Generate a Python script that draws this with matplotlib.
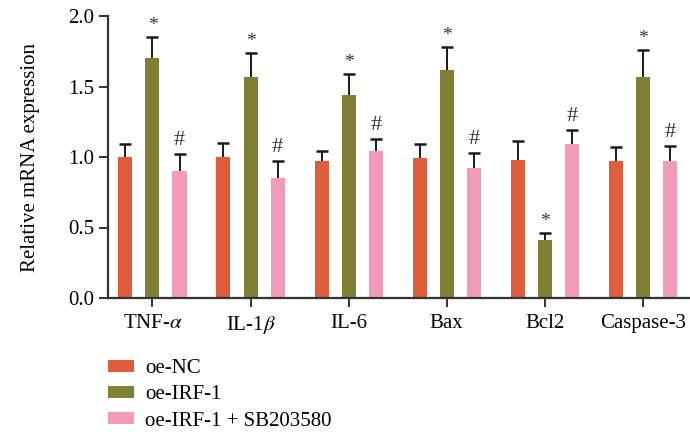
import numpy as np
import matplotlib
matplotlib.use("Agg")
import matplotlib.pyplot as plt
from matplotlib.patches import Patch

plt.rcParams['font.family'] = ['Liberation Serif', 'DejaVu Serif']
plt.rcParams['mathtext.fontset'] = 'stix'

genes = ['TNF-$\\alpha$', 'IL-1$\\beta$', 'IL-6', 'Bax', 'Bcl2', 'Caspase-3']
groups = ['oe-NC', 'oe-IRF-1', 'oe-IRF-1 + SB203580']
colors = ['#DE5D3D', '#817F36', '#F29ABA']

oe_nc = [1.00, 1.00, 0.97, 0.99, 0.98, 0.97]
oe_nc_err = [0.09, 0.10, 0.07, 0.10, 0.13, 0.10]
oe_irf = [1.70, 1.57, 1.44, 1.62, 0.41, 1.57]
oe_irf_err = [0.15, 0.17, 0.15, 0.16, 0.05, 0.19]
oe_sb = [0.90, 0.85, 1.04, 0.92, 1.09, 0.97]
oe_sb_err = [0.12, 0.12, 0.09, 0.11, 0.10, 0.11]
marks_irf = ['*'] * 6
marks_sb = ['#'] * 6

fs = 15
fig = plt.figure(figsize=(6.9, 4.34), dpi=100)
ax = fig.add_axes([108/690, 1-298/434, 1-108/690, (298-16)/434])

x = np.arange(len(genes))
w = 0.143
off = 0.276
series = [(oe_nc, oe_nc_err, None), (oe_irf, oe_irf_err, marks_irf), (oe_sb, oe_sb_err, marks_sb)]
for i, (vals, errs, marks) in enumerate(series):
    xs = x + (i - 1) * off
    vals = np.array(vals)
    tops = vals + np.array(errs)
    ax.bar(xs, vals, w, color=colors[i], zorder=2)
    # upper error bar only
    ax.vlines(xs, vals, tops, color='#1a1a1a', lw=1.4, zorder=3)
    ax.plot(xs, tops, ls='none', marker='_', ms=8, mew=1.8, color='#1a1a1a', zorder=3)
    if marks:
        for xi, t, m in zip(xs, tops, marks):
            ax.annotate(m, (xi, t), xytext=(0, 2 if m == '*' else 3),
                        textcoords='offset points', ha='center', va='bottom',
                        fontsize=14 if m == '*' else 16, color='#333333')

ax.set_xlim(-0.453, 5.48)
ax.set_ylim(0, 2.0)
ax.set_yticks([0, 0.5, 1.0, 1.5, 2.0])
ax.set_yticklabels(['0.0', '0.5', '1.0', '1.5', '2.0'])
ax.set_xticks(x)
ax.set_xticklabels(genes)
ax.set_ylabel('Relative mRNA expression', fontsize=fs, labelpad=20)
ax.tick_params(axis='both', labelsize=fs, width=1.4, length=6.5, color='#333333')
ax.tick_params(axis='x', pad=5)
for s in ['top', 'right']:
    ax.spines[s].set_visible(False)
for s in ['left', 'bottom']:
    ax.spines[s].set_linewidth(1.6)
    ax.spines[s].set_color('#333333')

handles = [Patch(facecolor=c, edgecolor='none') for c in colors]
fig.legend(handles, groups, loc='upper left', bbox_to_anchor=(100/690, 1-351/434),
           frameon=False, fontsize=fs, handlelength=1.25, handleheight=0.5,
           handletextpad=0.5, labelspacing=0.34, borderaxespad=0)

fig.savefig('out.png', dpi=100)
